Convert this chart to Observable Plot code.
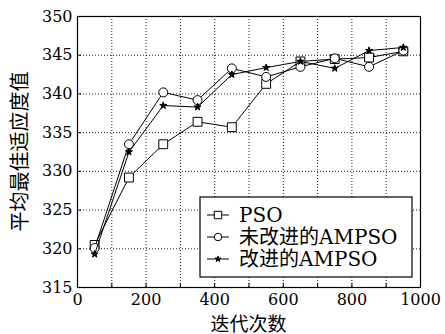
<!DOCTYPE html>
<html>
<head>
<meta charset="utf-8">
<script src="https://cdn.jsdelivr.net/npm/d3@7"></script>
<script src="https://cdn.jsdelivr.net/npm/@observablehq/plot@0.6"></script>
<style>
  html, body { margin: 0; padding: 0; background: #fff; }
  #chart svg { display: block; }
</style>
</head>
<body>
<div id="chart"></div>
<script>
const iterations = [50, 150, 250, 350, 450, 550, 650, 750, 850, 950];
const psoValues = [320.5, 329.2, 333.5, 336.4, 335.7, 341.3, 344.2, 344.5, 344.7, 345.5];
const ampsoOrigValues = [320.1, 333.5, 340.2, 339.2, 343.3, 342.2, 343.5, 344.6, 343.5, 345.6];
const ampsoImprovedValues = [319.3, 332.5, 338.5, 338.3, 342.5, 343.4, 344.2, 343.3, 345.6, 346.0];
const seriesNames = ["PSO", "未改进的AMPSO", "改进的AMPSO"];
const xTickLabels = [0, 200, 400, 600, 800, 1000];
const xTickMarks = [0, 100, 200, 300, 400, 500, 600, 700, 800, 900, 1000];
const yTickLabels = [315, 320, 325, 330, 335, 340, 345, 350];

const seriesValues = [psoValues, ampsoOrigValues, ampsoImprovedValues];
const symbols = ["square", "circle", "star"];
const radii = [5, 4.5, 2.2];
const fills = ["white", "white", "black"];

const rows = [];
seriesValues.forEach((vals, si) => {
  vals.forEach((v, i) => rows.push({series: seriesNames[si], x: iterations[i], y: v}));
});

const font = "'DejaVu Serif', 'Noto Sans CJK SC', serif";

const marks = [
  Plot.gridX(xTickMarks, {stroke: "#000", strokeOpacity: 0.9, strokeDasharray: "1,2"}),
  Plot.gridY(yTickLabels, {stroke: "#000", strokeOpacity: 0.9, strokeDasharray: "1,2"}),
  Plot.axisX(xTickMarks, {tickSize: -4, text: null, strokeWidth: 1}),
  Plot.axisX(xTickLabels, {tickSize: 0, tickPadding: 6, fontSize: 16, label: null, fill: "#000", tickFormat: d => String(d)}),
  Plot.axisY(yTickLabels, {tickSize: -4, text: null}),
  Plot.axisY(yTickLabels, {tickSize: 0, tickPadding: 5, fontSize: 16, label: null, fill: "#000", tickFormat: d => String(d)}),
];
seriesNames.forEach((name, si) => {
  const data = rows.filter(d => d.series === name);
  marks.push(Plot.line(data, {x: "x", y: "y", stroke: "black", strokeWidth: 1}));
  marks.push(Plot.dot(data, {x: "x", y: "y", symbol: () => symbols[si], r: radii[si], fill: fills[si], stroke: "black", strokeWidth: 1}));
});
marks.push(Plot.frame({stroke: "black", strokeWidth: 1.2}));

const chart = Plot.plot({
  width: 445,
  height: 334,
  marginLeft: 77,
  marginRight: 25,
  marginTop: 16,
  marginBottom: 47,
  style: {fontFamily: font, fontSize: "16px", color: "#000", background: "white"},
  x: {domain: [0, 1000], label: null},
  y: {domain: [315, 350], label: null},
  marks
});

const svg = d3.select(chart);
// axis titles
svg.append("text")
  .attr("x", (77 + 420) / 2).attr("y", 331)
  .attr("text-anchor", "middle")
  .attr("font-family", font).attr("font-size", 19)
  .attr("fill", "#000")
  .text("迭代次数");
svg.append("text")
  .attr("transform", `translate(27, ${(16 + 287) / 2}) rotate(-90)`)
  .attr("text-anchor", "middle")
  .attr("font-family", font).attr("font-size", 20)
  .attr("fill", "#000")
  .text("平均最佳适应度值");

// legend
const lg = svg.append("g").attr("transform", "translate(200,197)");
lg.append("rect").attr("width", 212).attr("height", 80)
  .attr("fill", "white").attr("stroke", "black").attr("stroke-width", 1.2);
seriesNames.forEach((name, si) => {
  const yy = 18 + si * 22;
  lg.append("line").attr("x1", 7).attr("x2", 29).attr("y1", yy).attr("y2", yy)
    .attr("stroke", "black").attr("stroke-width", 1);
  const sym = {square: d3.symbolSquare, circle: d3.symbolCircle, star: d3.symbolStar}[symbols[si]];
  lg.append("path")
    .attr("d", d3.symbol(sym, radii[si] * radii[si] * Math.PI * 0.7)())
    .attr("transform", `translate(18,${yy})`)
    .attr("fill", fills[si]).attr("stroke", "black").attr("stroke-width", 1);
  lg.append("text").attr("x", 39).attr("y", yy).attr("dy", "0.36em")
    .attr("text-anchor", "start")
    .attr("font-family", font).attr("font-size", 20).attr("fill", "#000")
    .text(name);
});

document.getElementById("chart").appendChild(chart);
</script>
</body>
</html>
